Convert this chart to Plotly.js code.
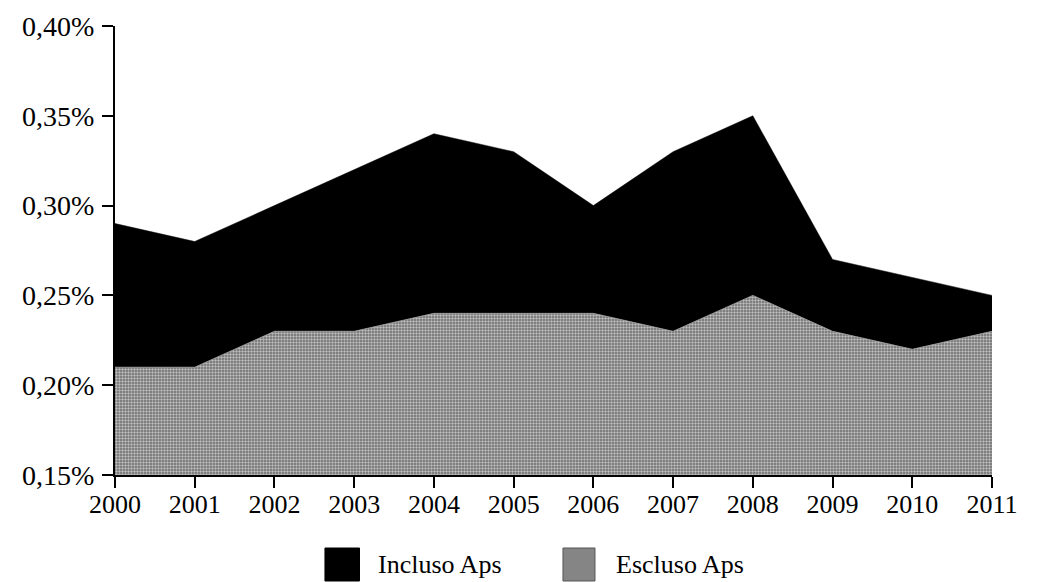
<!DOCTYPE html>
<html>
<head>
<meta charset="utf-8">
<script src="https://cdn.plot.ly/plotly-3.0.1.min.js"></script>
<style>html,body{margin:0;padding:0;background:#fff;}#chart{width:1042px;height:582px;}</style>
</head>
<body>
<div id="chart"></div>
<script>
const years = [2000, 2001, 2002, 2003, 2004, 2005, 2006, 2007, 2008, 2009, 2010, 2011];
const inclusoAps = [0.29, 0.28, 0.30, 0.32, 0.34, 0.33, 0.30, 0.33, 0.35, 0.27, 0.26, 0.25];
const esclusoAps = [0.21, 0.21, 0.23, 0.23, 0.24, 0.24, 0.24, 0.23, 0.25, 0.23, 0.22, 0.23];
const seriesNames = ['Incluso Aps', 'Escluso Aps'];
const yTicks = [0.15, 0.20, 0.25, 0.30, 0.35, 0.40];
const yTickLabels = ['0,15%', '0,20%', '0,25%', '0,30%', '0,35%', '0,40%'];

const fam = '"Liberation Serif", "DejaVu Serif", serif';
const font = {family: fam, size: 26, color: '#000'};
const yfont = {family: fam, size: 28, color: '#000'};

const grayFill = '#858585';

const traces = [
  {
    x: years, y: inclusoAps, name: seriesNames[0], type: 'scatter', mode: 'lines',
    fill: 'tozeroy', line: {color: '#000', width: 0.5}, fillcolor: '#000', showlegend: false
  },
  {
    x: years, y: esclusoAps, name: seriesNames[1], type: 'scatter', mode: 'lines',
    fill: 'tozeroy', line: {color: '#aaa', width: 0.8}, fillcolor: grayFill, showlegend: false,
    fillpattern: {shape: '.', bgcolor: '#6a6a6a', fgcolor: '#bdbdbd', size: 3, solidity: 0.5}
  }
];

// legend drawn as shapes + annotations (paper coords), names from seriesNames
const legendY0 = -0.1626, legendY1 = -0.2361, legendYc = -0.200;
const legendItems = [
  {x0: 0.2394, x1: 0.2788, tx: 0.2976, fill: '#000', line: '#000'},
  {x0: 0.5108, x1: 0.5473, tx: 0.5690, fill: grayFill, line: '#555'}
];

const shapes = legendItems.map(it => ({
  type: 'rect', xref: 'paper', yref: 'paper',
  x0: it.x0, x1: it.x1, y0: legendY0, y1: legendY1,
  fillcolor: it.fill, line: {color: it.line, width: 1}
}));
const annotations = legendItems.map((it, i) => ({
  xref: 'paper', yref: 'paper', x: it.tx, y: legendYc,
  xanchor: 'left', yanchor: 'middle', showarrow: false,
  text: seriesNames[i], font: font
}));

const layout = {
  width: 1042, height: 582,
  margin: {l: 115, r: 50, t: 26, b: 107},
  paper_bgcolor: '#fff', plot_bgcolor: '#fff',
  font: font,
  showlegend: false,
  shapes: shapes,
  annotations: annotations,
  xaxis: {
    range: [2000, 2011], tickvals: years, ticktext: years.map(String),
    showgrid: false, zeroline: false, showline: true, linecolor: '#000', linewidth: 2,
    ticks: 'outside', ticklen: 11, tickwidth: 2, tickcolor: '#000', tickfont: font,
    ticklabelstandoff: -6
  },
  yaxis: {
    range: [0.15, 0.40], tickvals: yTicks, ticktext: yTickLabels,
    showgrid: false, zeroline: false, showline: true, linecolor: '#000', linewidth: 2,
    ticks: 'outside', ticklen: 11, tickwidth: 2, tickcolor: '#000', tickfont: yfont,
    ticklabelstandoff: 2
  }
};

Plotly.newPlot('chart', traces, layout, {displayModeBar: false, staticPlot: true});
</script>
</body>
</html>
